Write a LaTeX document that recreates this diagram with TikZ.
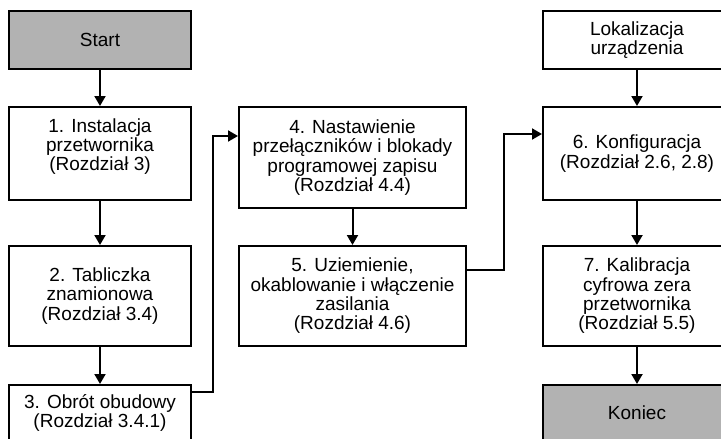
\documentclass[tikz,border=0pt]{standalone}
\usepackage{fontspec}
\setmainfont{Liberation Sans}
\usetikzlibrary{arrows.meta}
\definecolor{termgray}{RGB}{178,178,178}
\tikzset{
  label text/.style={inner sep=0pt, align=center, font=\fontsize{19}{19.3}\selectfont},
  box/.style={label text, draw=black, line width=2pt, fill=white},
  term/.style={box, fill=termgray},
  flow/.style={line width=2pt, -{Triangle[width=11pt,length=10pt]}},
}
\begin{document}
\begin{tikzpicture}[x=1pt,y=-1pt]
\useasboundingbox (0,0) rectangle (721,439);
\clip (0,0) rectangle (721,439);
\fill[white] (0,0) rectangle (721,439);

% left column
\node[term, minimum width=182pt, minimum height=58pt] (start) at (100,40) {Start};
\node[box, minimum width=182pt, minimum height=93pt] (b1) at (100,153.5) {};
\node[label text] (b1text) at ([yshift=7pt]b1.center)
  {1. Instalacja\\przetwornika\\(Rozdział 3)};
\node[box, minimum width=182pt, minimum height=100pt] (b2) at (100,296)
  {2. Tabliczka\\znamionowa\\(Rozdział 3.4)};
\node[box, minimum width=182pt, minimum height=56pt] (b3) at (100,413)
  {3. Obrót obudowy\\(Rozdział 3.4.1)};

% middle column
\node[box, minimum width=227pt, minimum height=101pt] (b4) at (352.5,157.5)
  {4. Nastawienie\\przełączników i blokady\\programowej zapisu\\(Rozdział 4.4)};
\node[box, minimum width=227pt, minimum height=100pt] (b5) at (352.5,296)
  {5. Uziemienie,\\okablowanie i włączenie\\zasilania\\(Rozdział 4.6)};

% right column
\node[box, minimum width=188pt, minimum height=58pt] (lok) at (637,40)
  {Lokalizacja\\urządzenia};
\node[box, minimum width=188pt, minimum height=93pt] (b6) at (637,153.5)
  {6. Konfiguracja\\(Rozdział 2.6, 2.8)};
\node[box, minimum width=188pt, minimum height=100pt] (b7) at (637,296)
  {7. Kalibracja\\cyfrowa zera\\przetwornika\\(Rozdział 5.5)};
\node[term, minimum width=188pt, minimum height=56pt] (end) at (637,413) {Koniec};

% connectors
\draw[flow] (start) -- (b1);
\draw[flow] (b1) -- (b2);
\draw[flow] (b2) -- (b3);
\draw[flow] ([yshift=-8pt]b3.north east) -- ++(21,0) |- ([yshift=-30pt]b4.north west);
\draw[flow] (b4) -- (b5);
\draw[flow] ([yshift=-25pt]b5.north east) -- ++(37,0) |- ([yshift=-28pt]b6.north west);
\draw[flow] (lok) -- (b6);
\draw[flow] (b6) -- (b7);
\draw[flow] (b7) -- (end);
\end{tikzpicture}
\end{document}
